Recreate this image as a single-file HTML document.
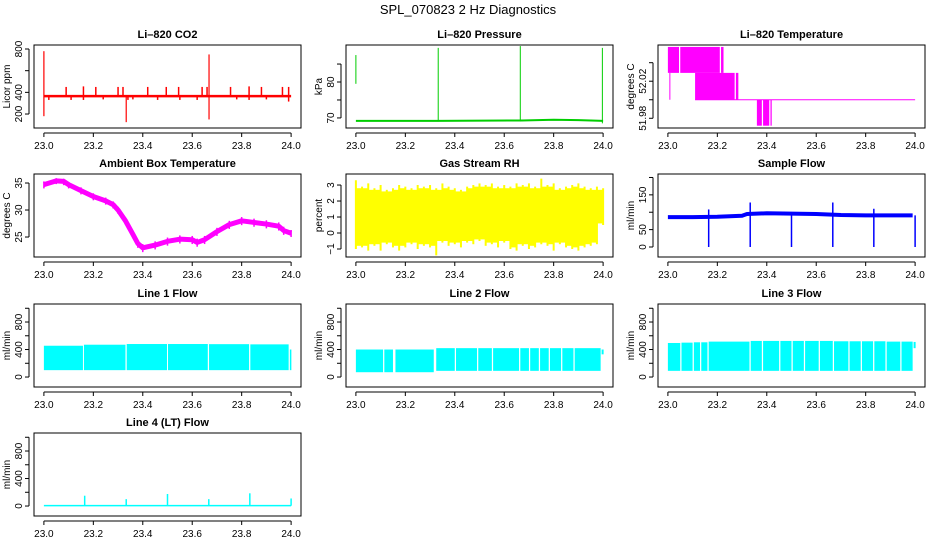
<!DOCTYPE html>
<html><head><meta charset="utf-8"><style>
html,body{margin:0;padding:0;background:#fff;}
svg{display:block;font-family:"Liberation Sans",sans-serif;}
</style></head><body>
<svg id="c" width="936" height="540" viewBox="0 0 936 540" xmlns="http://www.w3.org/2000/svg">
<text x="468" y="14" text-anchor="middle" font-size="13">SPL_070823  2 Hz Diagnostics</text>
</svg>
<script>
// ---- data arrays ----
const xTicks = [23.0, 23.2, 23.4, 23.6, 23.8, 24.0];
const xTickLabels = ['23.0','23.2','23.4','23.6','23.8','24.0'];

// CO2
const co2Base = 365;
const co2SpikeT = [23.09,23.16,23.21,23.30,23.32,23.42,23.495,23.545,23.64,23.66,23.755,23.83,23.88,23.965,23.99];
const co2SpikeV = [450,455,450,450,450,450,450,450,450,450,450,455,450,450,450];
const co2DipT = [23.02,23.11,23.16,23.24,23.34,23.36,23.46,23.55,23.62,23.78,23.83,23.90,23.99];
const co2DipV = [330,330,330,335,330,335,330,330,330,335,330,335,315];
const co2BigT = [23.0, 23.333, 23.668];
const co2BigHi = [780, 365, 750];
const co2BigLo = [180, 125, 150];

// Pressure
const presBase = [69.2, 69.2, 69.3, 69.5, 69.4, 69.2];
const presBaseT = [23.0, 23.33, 23.67, 23.8, 23.9, 24.0];
const presSpikeT = [23.0, 23.333, 23.665, 23.997];
const presSpikeLo = [79.5, 69.0, 69.0, 68.5];
const presSpikeHi = [87.5, 89.5, 90.0, 89.5];

// Li-820 temperature (blocks: start, end, low, high)
const tBlockStart = [23.0, 23.05, 23.215, 23.11, 23.275, 23.36, 23.385, 23.415];
const tBlockEnd   = [23.045, 23.21, 23.225, 23.27, 23.285, 23.38, 23.41, 23.42];
const tBlockLo    = [52.029, 52.029, 52.029, 52.0, 52.0, 51.972, 51.972, 51.972];
const tBlockHi    = [52.057, 52.057, 52.057, 52.029, 52.029, 52.0, 52.0, 52.0];
const tLineLevel = 52.0;

// Ambient box temperature
const ambT = [23.0,23.05,23.08,23.1,23.15,23.2,23.25,23.28,23.3,23.33,23.36,23.38,23.4,23.45,23.5,23.55,23.6,23.62,23.65,23.7,23.75,23.8,23.85,23.9,23.95,23.97,24.0];
const ambV = [34.7,35.4,35.3,34.7,33.6,32.5,31.7,31.0,30.0,28.0,25.5,23.8,23.0,23.5,24.2,24.6,24.5,24.0,24.5,26.0,27.3,28.0,27.7,27.4,27.0,26.2,25.7];
const ambLo = [34.0,34.8,34.6,34.0,32.9,31.8,31.0,30.3,29.3,27.3,24.8,23.0,22.2,22.7,23.4,23.8,23.7,23.2,23.7,25.2,26.5,27.2,26.9,26.6,26.2,25.4,25.0];
const ambHi = [35.3,35.9,35.8,35.2,34.2,33.1,32.3,31.6,30.6,28.6,26.1,24.4,23.7,24.2,24.9,25.3,25.2,24.7,25.2,26.7,28.0,28.7,28.4,28.1,27.7,26.9,26.3];

// Gas stream RH (min / max per bin)
const rhT  = [23.0,23.025,23.05,23.075,23.1,23.125,23.15,23.175,23.2,23.225,23.25,23.275,23.3,23.325,23.35,23.375,23.4,23.425,23.45,23.475,23.5,23.525,23.55,23.575,23.6,23.625,23.65,23.675,23.7,23.725,23.75,23.775,23.8,23.825,23.85,23.875,23.9,23.925,23.95,23.975,24.0];
const rhLo = [-1.0,-0.9,-1.1,-0.8,-1.1,-0.7,-0.9,-1.1,-0.9,-0.7,-1.0,-0.8,-0.9,-1.4,-0.6,-0.8,-0.7,-0.9,-0.6,-0.7,-0.5,-0.8,-0.7,-0.9,-0.6,-1.0,-1.1,-0.8,-1.0,-0.9,-0.7,-0.8,-1.1,-0.7,-0.9,-1.0,-1.1,-0.9,-0.8,-0.7,0.5];
const rhHi = [3.3,2.9,3.1,2.8,3.0,2.7,2.8,3.0,2.9,2.8,3.0,2.9,3.0,2.8,3.1,2.9,2.8,2.7,2.9,3.0,3.1,3.0,3.1,2.9,3.0,2.9,3.1,3.0,3.1,2.9,3.4,3.0,3.1,2.8,2.9,3.0,3.1,2.9,2.8,2.9,2.8];

// Sample flow
const sfT = [23.0,23.1,23.2,23.3,23.32,23.4,23.5,23.6,23.7,23.8,23.9,23.99];
const sfV = [86,86,87,90,95,97,96,95,92,91,91,91];
const sfDipT = [23.165, 23.333, 23.5, 23.667, 23.833, 24.0];
const sfDipHi = [108, 128, 95, 128, 110, 91];

// Line flows: filled segments (start, end, low, high)
const l1Start = [23.0, 23.162, 23.335, 23.502, 23.668, 23.835];
const l1End   = [23.158, 23.33, 23.498, 23.663, 23.83, 23.99];
const l1Lo    = [100, 100, 100, 100, 100, 100];
const l1Hi    = [455, 470, 480, 480, 478, 475];

const l2Start = [23.0, 23.115, 23.16, 23.325, 23.405, 23.495, 23.555, 23.665, 23.705, 23.745, 23.785, 23.835, 23.885];
const l2End   = [23.11, 23.15, 23.315, 23.4, 23.49, 23.55, 23.66, 23.7, 23.74, 23.78, 23.83, 23.88, 23.99];
const l2Lo    = [70, 70, 70, 90, 90, 90, 90, 90, 90, 90, 90, 90, 90];
const l2Hi    = [400, 400, 400, 420, 420, 420, 420, 420, 420, 420, 420, 420, 420];

const l3Start = [23.0, 23.055, 23.105, 23.135, 23.165, 23.335, 23.385, 23.455, 23.505, 23.555, 23.615, 23.672, 23.735, 23.785, 23.835, 23.885, 23.945];
const l3End   = [23.05, 23.1, 23.13, 23.16, 23.33, 23.38, 23.45, 23.5, 23.55, 23.61, 23.667, 23.73, 23.78, 23.83, 23.88, 23.94, 23.99];
const l3Lo    = [90, 90, 90, 90, 90, 90, 90, 90, 90, 90, 90, 90, 90, 90, 90, 90, 90];
const l3Hi    = [495, 500, 505, 505, 515, 525, 525, 525, 525, 525, 525, 520, 520, 520, 520, 515, 515];

const l4Base = 5;
const l4SpikeT = [23.165, 23.333, 23.5, 23.667, 23.833, 24.0];
const l4SpikeV = [150, 100, 175, 100, 185, 110];

// ---- drawing ----
const svg = document.getElementById('c');
const NS = 'http://www.w3.org/2000/svg';
function mk(tag, attrs, parent) {
  const e = document.createElementNS(NS, tag);
  for (const k in attrs) e.setAttribute(k, attrs[k]);
  (parent || svg).appendChild(e);
  return e;
}
const colX = [34, 346, 658];
const rowY = [45, 174, 304, 433];
const W = 267, H = 83;
const XMIN = 22.96, XMAX = 24.04;

function panel(name, col, row, title, ylab, ymin, ymax, yt, ytl) {
  const x0 = colX[col], y0 = rowY[row];
  const g = mk('g', {});
  
  
  const sx = v => x0 + (v - XMIN) / (XMAX - XMIN) * W;
  const sy = v => y0 + H - (v - ymin) / (ymax - ymin) * H;
  const plot = mk('g', {}, g);
  
  
  const t = mk('text', {x: x0 + W / 2, y: y0 - 7, 'text-anchor': 'middle', 'font-size': 11, 'font-weight': 'bold'}, g);
  
  
  t.textContent = title;
  const b = mk('rect', {x: x0, y: y0, width: W, height: H, fill: 'none', stroke: '#000', 'stroke-width': 1}, g);
  
  
  const xa = mk('g', {}, g);
  
  
  mk('line', {x1: sx(xTicks[0]), x2: sx(xTicks[xTicks.length - 1]), y1: y0 + H + 5, y2: y0 + H + 5, stroke: '#000'}, xa);
  xTicks.forEach((v, i) => {
    mk('line', {x1: sx(v), x2: sx(v), y1: y0 + H + 5, y2: y0 + H + 9, stroke: '#000'}, xa);
    const l = mk('text', {x: sx(v), y: y0 + H + 21, 'text-anchor': 'middle', 'font-size': 10}, xa);
    
    
    l.textContent = xTickLabels[i];
  });
  const ya = mk('g', {}, g);
  
  
  mk('line', {x1: x0 - 5, x2: x0 - 5, y1: sy(yt[0]), y2: sy(yt[yt.length - 1]), stroke: '#000'}, ya);
  yt.forEach((v, i) => {
    mk('line', {x1: x0 - 9, x2: x0 - 5, y1: sy(v), y2: sy(v), stroke: '#000'}, ya);
    if (ytl[i]) {
      const l = mk('text', {x: 0, y: 0, 'text-anchor': 'middle', 'font-size': 10, transform: `translate(${x0 - 12},${sy(v)}) rotate(-90)`}, ya);
      
      
      l.textContent = ytl[i];
    }
  });
  const yl = mk('text', {x: 0, y: 0, 'text-anchor': 'middle', 'font-size': 10, transform: `translate(${x0 - 24},${y0 + H / 2}) rotate(-90)`}, g);
  
  
  yl.textContent = ylab;
  return {sx, sy, g: plot};
}
function vline(p, t, a, b, col, w) {
  mk('line', {x1: p.sx(t), x2: p.sx(t), y1: p.sy(a), y2: p.sy(b), stroke: col, 'stroke-width': w || 1}, p.g);
}
function poly(p, ts, vs, col, w) {
  mk('polyline', {points: ts.map((t, i) => p.sx(t) + ',' + p.sy(vs[i])).join(' '), fill: 'none', stroke: col, 'stroke-width': w, 'stroke-linejoin': 'round'}, p.g);
}
function blocks(p, s, e, lo, hi, col) {
  s.forEach((t, i) => {
    const x = p.sx(t), x2 = p.sx(e[i]);
    mk('rect', {x: x, y: p.sy(hi[i]), width: Math.max(1, x2 - x), height: p.sy(lo[i]) - p.sy(hi[i]), fill: col}, p.g);
  });
}

// CO2
let p = panel('co2', 0, 0, 'Li\u2013820 CO2', 'Licor ppm', 71, 837, [200, 400, 600, 800], ['200', '400', '', '800']);
poly(p, [23.0, 24.0], [co2Base, co2Base], '#ff0000', 2.5);
co2SpikeT.forEach((t, i) => vline(p, t, co2Base, co2SpikeV[i], '#ff0000', 1.5));
co2DipT.forEach((t, i) => vline(p, t, co2Base, co2DipV[i], '#ff0000', 1.5));
co2BigT.forEach((t, i) => vline(p, t, co2BigLo[i], co2BigHi[i], '#ff0000', 1.2));

// Pressure
p = panel('pressure', 1, 0, 'Li\u2013820 Pressure', 'kPa', 67.2, 90.3, [70, 75, 80, 85], ['70', '', '80', '']);
poly(p, presBaseT, presBase, '#00cd00', 2);
presSpikeT.forEach((t, i) => vline(p, t, presSpikeLo[i], presSpikeHi[i], '#00cd00', 1));

// Li-820 temperature
p = panel('li820-temp', 2, 0, 'Li\u2013820 Temperature', 'degrees C', 51.9695, 52.0591, [51.98, 52.0, 52.02, 52.04], ['51.98', '', '52.02', '']);
blocks(p, tBlockStart, tBlockEnd, tBlockLo, tBlockHi, '#ff00ff');
poly(p, [23.11, 24.0], [tLineLevel, tLineLevel], '#ff00ff', 1);
vline(p, 23.008, tLineLevel, 52.029, '#ff00ff', 1);

// Ambient
p = panel('ambient-temp', 0, 1, 'Ambient Box Temperature', 'degrees C', 21.3, 36.67, [25, 30, 35], ['25', '30', '35']);
poly(p, ambT, ambV, '#ff00ff', 5);
ambT.forEach((t, i) => vline(p, t, ambLo[i], ambHi[i], '#ff00ff', 1.5));

// RH
p = panel('gas-rh', 1, 1, 'Gas Stream RH', 'percent', -1.5, 3.69, [-1, 0, 1, 2, 3], ['\u22121', '0', '1', '2', '3']);
for (let i = 0; i < rhT.length - 1; i++) {
  const x = p.sx(rhT[i]), x2 = p.sx(rhT[i + 1]);
  mk('rect', {x: x, y: p.sy(Math.min(rhHi[i], rhHi[i + 1]) - 0.1), width: x2 - x, height: p.sy(Math.max(rhLo[i], rhLo[i + 1]) + 0.1) - p.sy(Math.min(rhHi[i], rhHi[i + 1]) - 0.1), fill: '#ffff00'}, p.g);
}
rhT.forEach((t, i) => vline(p, t, rhLo[i], rhHi[i], '#ffff00', 2));

// Sample flow
p = panel('sample-flow', 2, 1, 'Sample Flow', 'ml/min', -28.8, 210, [0, 50, 100, 150, 200], ['0', '50', '', '150', '']);
poly(p, sfT, sfV, '#0000ff', 4);
sfDipT.forEach((t, i) => vline(p, t, 0, sfDipHi[i], '#0000ff', 1.5));

// Line flows
const flowTicks = [0, 200, 400, 600, 800, 1000];
const flowLabels = ['0', '', '400', '', '800', ''];
p = panel('line1-flow', 0, 2, 'Line 1 Flow', 'ml/min', -145, 1062, flowTicks, flowLabels);
blocks(p, l1Start, l1End, l1Lo, l1Hi, '#00ffff');
vline(p, 23.998, 100, 400, '#00ffff', 1.5);
p = panel('line2-flow', 1, 2, 'Line 2 Flow', 'ml/min', -145, 1062, flowTicks, flowLabels);
blocks(p, l2Start, l2End, l2Lo, l2Hi, '#00ffff');
vline(p, 23.998, 330, 400, '#00ffff', 2);
p = panel('line3-flow', 2, 2, 'Line 3 Flow', 'ml/min', -145, 1062, flowTicks, flowLabels);
blocks(p, l3Start, l3End, l3Lo, l3Hi, '#00ffff');
vline(p, 23.998, 420, 510, '#00ffff', 2);
p = panel('line4-flow', 0, 3, 'Line 4 (LT) Flow', 'ml/min', -145, 1062, flowTicks, flowLabels);
poly(p, [23.0, 24.0], [l4Base, l4Base], '#00ffff', 1.5);
l4SpikeT.forEach((t, i) => vline(p, t, l4Base, l4SpikeV[i], '#00ffff', 1.5));
</script>
</body></html>
